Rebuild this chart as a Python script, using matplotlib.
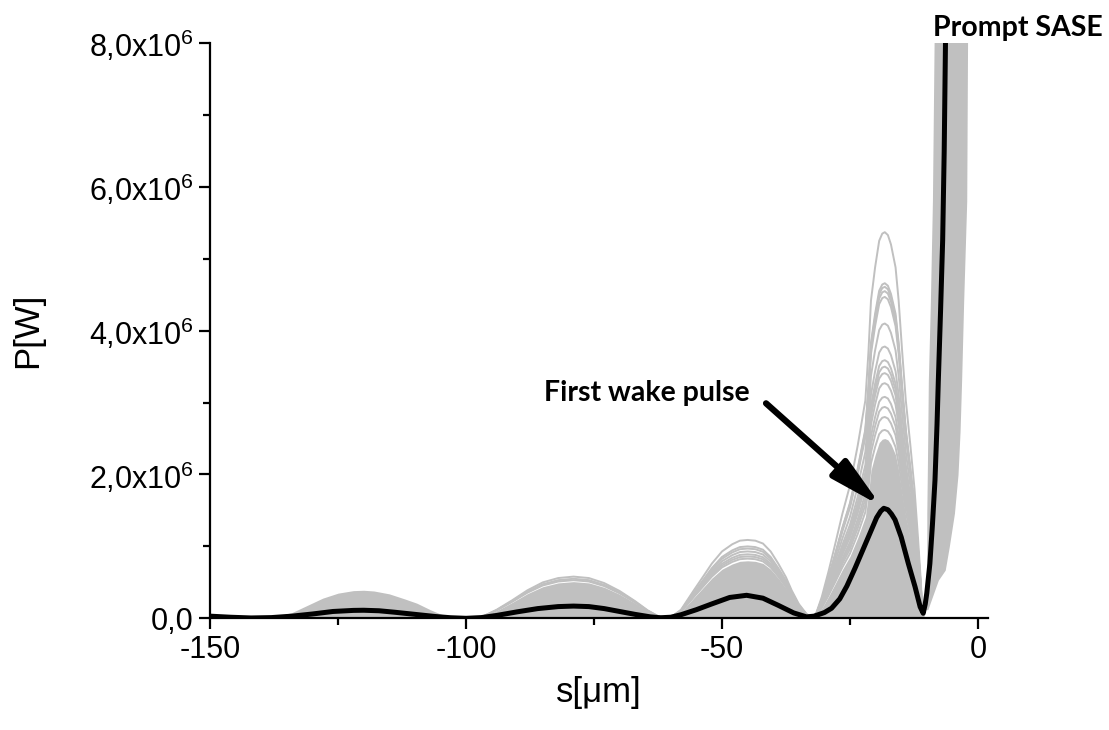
import numpy as np
import matplotlib
matplotlib.use("Agg")
import matplotlib.pyplot as plt
from matplotlib.ticker import FuncFormatter, MultipleLocator

plt.rcParams['font.family'] = ['Liberation Sans', 'DejaVu Sans']
plt.rcParams['mathtext.fontset'] = 'custom'
plt.rcParams['mathtext.rm'] = 'Liberation Sans'
plt.rcParams['mathtext.default'] = 'regular'
plt.rcParams['axes.unicode_minus'] = False

# mean power (black line), s in um, P in MW
s_mean = [-150, -146, -142, -138, -134, -130, -126, -122, -120, -117, -114, -110, -106, -103,
          -100, -97, -94, -90, -86, -82, -79, -76, -73, -70, -67, -64, -62,
          -60, -58, -55, -52, -48.5, -45.2, -42, -39, -36, -33.5,
          -32, -30, -28.6, -27, -25.6, -24, -22.5, -21, -19.8, -19, -18.4, -17.6, -16.9, -16.2,
          -15, -13.6, -12.3, -11.3, -10.7, -10.3, -10.0, -9.4, -8.9, -8.4, -8.0, -7.75, -7.3,
          -6.9, -6.6, -6.3]
p_mean = [0.03, 0.015, 0.005, 0.01, 0.03, 0.06, 0.095, 0.11, 0.112, 0.105, 0.085, 0.055, 0.025, 0.008,
          0.0, 0.01, 0.04, 0.09, 0.135, 0.163, 0.17, 0.163, 0.135, 0.095, 0.055, 0.02, 0.008,
          0.015, 0.05, 0.12, 0.2, 0.29, 0.32, 0.28, 0.18, 0.075, 0.02,
          0.03, 0.08, 0.14, 0.27, 0.45, 0.7, 0.95, 1.2, 1.4, 1.49, 1.53, 1.51, 1.45, 1.37,
          1.13, 0.76, 0.44, 0.16, 0.07, 0.2, 0.35, 0.76, 1.3, 1.92, 2.7, 3.3, 4.3,
          5.26, 6.5, 8.3]

# upper envelope of the shot-to-shot curves (grey)
s_env = [-150, -146, -141, -137, -134, -131, -128, -125, -122, -120, -118, -115, -112, -109.6,
         -107, -105, -103, -100, -98, -96.6, -94, -91, -88, -85, -82, -79, -76, -73, -70, -67,
         -64.5, -62.5, -61, -59.5, -58, -55.5, -53.5, -52, -50, -48, -46.5, -45, -43.5, -42,
         -40.5, -39, -37.5, -36.4, -35, -33.5, -32.6, -31.6, -30.5, -29.2, -28, -26.5, -25,
         -23.5, -22.0, -21.4, -20.9, -20.1, -19.3, -18.7, -18.2, -17.6, -17.0, -16.1, -15.5,
         -14.8, -14.1, -13.2, -12.4, -11.7, -11.2, -10.9, -10.7]
p_env = [0.03, 0.01, 0.01, 0.03, 0.08, 0.18, 0.28, 0.35, 0.385, 0.39, 0.38, 0.34, 0.27, 0.21,
         0.12, 0.06, 0.02, 0.0, 0.01, 0.03, 0.12, 0.25, 0.39, 0.5, 0.56, 0.58, 0.56, 0.49, 0.38, 0.24,
         0.11, 0.03, 0.01, 0.04, 0.12, 0.39, 0.6, 0.76, 0.93, 1.03, 1.08, 1.09, 1.08, 1.04,
         0.93, 0.76, 0.57, 0.39, 0.2, 0.06, 0.02, 0.07, 0.3, 0.65, 1.0, 1.45, 1.85,
         2.4, 3.03, 3.7, 4.42, 4.88, 5.25, 5.35, 5.37, 5.33, 5.2, 4.88, 4.42,
         3.7, 3.03, 2.4, 1.8, 1.1, 0.55, 0.15, 0.05]

# wake pulses: s range, level of the dense grey body, peaks of the separate curves
hump_lo = [-150, -100, -61, -32.6]
hump_hi = [-100, -61, -32.6, -10.7]
hump_base = [0.39, 0.51, 0.8, 2.5]
hump_peaks = [
    [],
    [0.58, 0.55, 0.53],
    [1.09, 1.0, 0.97, 0.93, 0.89, 0.86, 0.83],
    [5.37, 4.66, 4.61, 4.55, 4.47, 4.10, 3.78, 3.59, 3.50, 3.41, 3.27, 3.08,
     2.94, 2.80, 2.62],
]

# prompt SASE band (grey), given as left/right edge vs power
band_p = [0.12, 0.53, 0.67, 1.0, 1.46, 2.0, 2.6, 3.3, 4.4, 5.8, 8.5]
band_left = [-10.3, -10.1, -10.05, -10.0, -10.0, -9.9, -9.8, -9.7, -9.3, -8.9, -8.5]
band_right = [-9.8, -7.75, -6.4, -5.6, -4.6, -3.9, -3.5, -3.2, -2.8, -2.2, -2.0]

grey = '#c0c0c0'
MW = 1e6

fig = plt.figure(figsize=(11.09, 7.30), dpi=100)
ax = fig.add_axes([0.1894, 0.153, 0.7017, 0.788])

s_env_a = np.array(s_env)
p_env_a = np.array(p_env)
for lo, hi, base, peaks in zip(hump_lo, hump_hi, hump_base, hump_peaks):
    m = (s_env_a >= lo) & (s_env_a <= hi)
    seg_s = s_env_a[m]
    seg_p = p_env_a[m]
    top = seg_p.max()
    ax.fill_between(seg_s, 0, seg_p * base / top * MW, color=grey, lw=0)
    for h in peaks:
        ax.plot(seg_s, seg_p * h / top * MW, color=grey, lw=1.4, solid_capstyle='round',
                solid_joinstyle='round')

ax.fill_betweenx(np.array(band_p) * MW, band_left, band_right, color=grey, lw=0)

ax.plot(s_mean, np.array(p_mean) * MW, color='black', lw=3.6, solid_joinstyle='round')

ax.set_xlim(-150, 2)
ax.set_ylim(0, 8e6)
ax.spines['top'].set_visible(False)
ax.spines['right'].set_visible(False)
for sp in ['left', 'bottom']:
    ax.spines[sp].set_linewidth(1.6)

ax.xaxis.set_major_locator(MultipleLocator(50))
ax.xaxis.set_minor_locator(MultipleLocator(25))
ax.yaxis.set_major_locator(MultipleLocator(2e6))
ax.yaxis.set_minor_locator(MultipleLocator(1e6))


def yfmt(v, pos):
    if v == 0:
        return '0,0'
    return ('%.1f' % (v / 1e6)).replace('.', ',') + 'x10$^{6}$'


ax.yaxis.set_major_formatter(FuncFormatter(yfmt))
ax.tick_params(which='major', length=8, width=1.6, labelsize=22, pad=4)
ax.tick_params(which='minor', length=5, width=1.6)

ax.set_xlabel('s[\u03bcm]', fontsize=25, labelpad=8)
ax.set_ylabel('P[W]', fontsize=25, labelpad=32)

ax.text(-64.6, 3.13e6, 'First wake pulse', fontsize=20.5, fontweight='bold',
        family='Lato', ha='center', va='center')
ax.annotate('', xy=(-18.9, 1.56e6), xytext=(-41.4, 2.99e6),
            arrowprops=dict(arrowstyle='-|>,head_length=1.4,head_width=0.32',
                            lw=4.5, color='black', shrinkA=0, shrinkB=0,
                            mutation_scale=22))
fig.text(0.918, 0.962, 'Prompt SASE', fontsize=20.5, fontweight='bold',
         family='Lato', ha='center', va='center')

fig.savefig('out.png', dpi=100)
